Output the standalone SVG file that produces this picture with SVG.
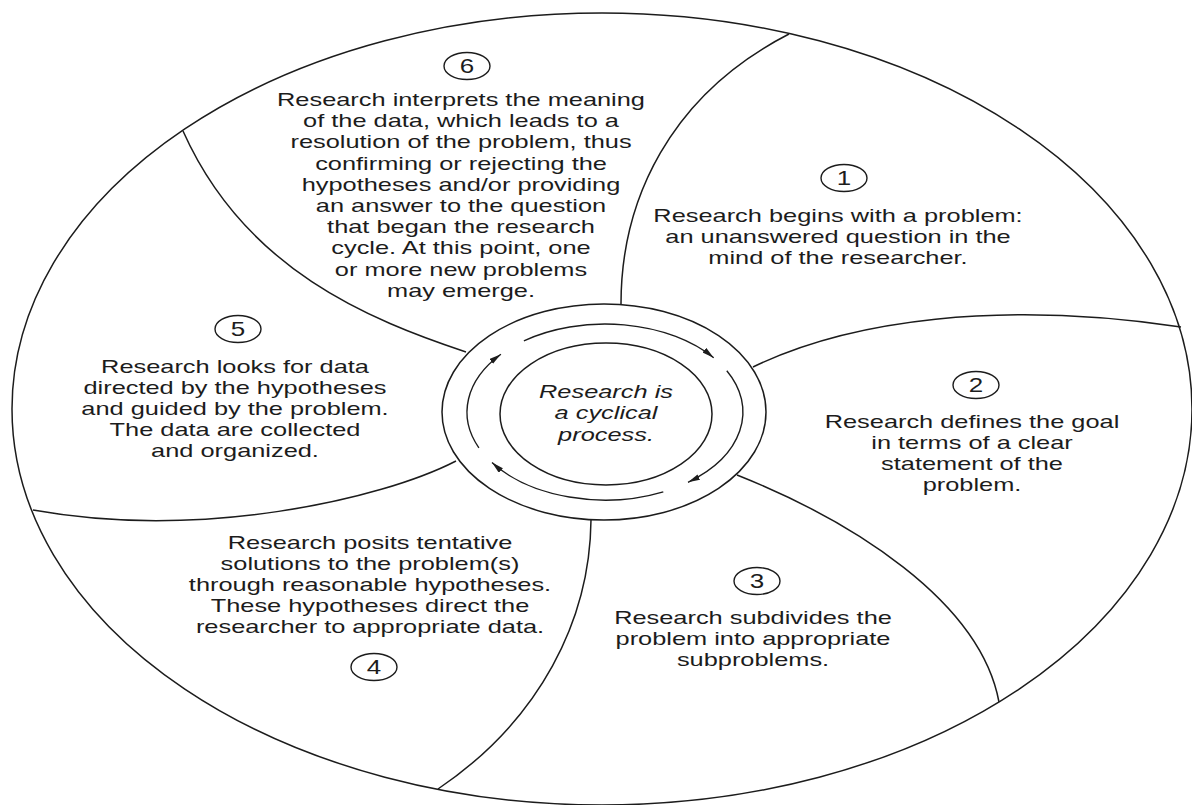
<svg xmlns="http://www.w3.org/2000/svg" width="1192" height="805" viewBox="0 0 1192 805">
<defs>
<style>
.ln{fill:none;stroke:#1c1c1c;stroke-width:1.5}
.num{fill:none;stroke:#1c1c1c;stroke-width:1.4}
.t{font-family:"Liberation Sans",Arial,sans-serif;font-size:17.5px;fill:#1c1c1c;text-anchor:middle}
.d{font-size:20px}
.it{font-style:italic}
.arc{fill:none;stroke:#1c1c1c;stroke-width:1.4;marker-end:url(#ah)}
</style>
<marker id="ah" markerUnits="userSpaceOnUse" markerWidth="14" markerHeight="8" refX="12" refY="3" orient="auto">
<path d="M0,0 L12,3 L0,6 z" fill="#1c1c1c"/>
</marker>
</defs>
<rect width="1192" height="805" fill="#fff"/>
<g id="frame">
<ellipse class="ln" cx="602" cy="409" rx="590" ry="396"/>
</g>
<g id="connectors">
<path class="ln" d="M621,304 C621,200 670,95 789,34"/>
<path class="ln" d="M753,367 C850,320 1000,300 1181,327"/>
<path class="ln" d="M737,475 C850,520 980,600 999,702"/>
<path class="ln" d="M591,520 C590,620 540,720 438,789"/>
<path class="ln" d="M456,461 C380,500 200,540 33,510"/>
<path class="ln" d="M466,352 C370,320 245,270 183,131"/>
</g>
<g id="hub">
<ellipse class="ln" cx="604" cy="412" rx="162" ry="108"/>
<ellipse class="ln" cx="606" cy="414" rx="106" ry="71"/>
<path class="arc" d="M523.9,340.8 A138,88 0 0 1 713.7,357.8"/>
<path class="arc" d="M726.8,370.7 A138,88 0 0 1 688.0,482.3"/>
<path class="arc" d="M663.3,491.8 A138,88 0 0 1 492.0,462.5"/>
<path class="arc" d="M478.9,447.8 A138,88 0 0 1 500.9,354.3"/>
<g transform="translate(606 0) scale(1.45 1)">
<text class="t it"><tspan x="0" y="398">Research is</tspan><tspan x="0" y="419.5">a cyclical</tspan><tspan x="0" y="441">process.</tspan></text>
</g>
</g>
<g id="step1">
<ellipse class="num" cx="844" cy="178" rx="23" ry="13.5"/>
<g transform="translate(844 0) scale(1.3 1)"><text class="t d" x="0" y="185.5">1</text></g>
<g transform="translate(838 0) scale(1.45 1)">
<text class="t"><tspan x="0" y="222">Research begins with a problem:</tspan><tspan x="0" y="243">an unanswered question in the</tspan><tspan x="0" y="264">mind of the researcher.</tspan></text>
</g>
</g>
<g id="step2">
<ellipse class="num" cx="976" cy="385" rx="23" ry="13.5"/>
<g transform="translate(976 0) scale(1.3 1)"><text class="t d" x="0" y="392.5">2</text></g>
<g transform="translate(972 0) scale(1.45 1)">
<text class="t"><tspan x="0" y="428">Research defines the goal</tspan><tspan x="0" y="449">in terms of a clear</tspan><tspan x="0" y="470">statement of the</tspan><tspan x="0" y="491">problem.</tspan></text>
</g>
</g>
<g id="step3">
<ellipse class="num" cx="757" cy="581" rx="23" ry="13.5"/>
<g transform="translate(757 0) scale(1.3 1)"><text class="t d" x="0" y="588.5">3</text></g>
<g transform="translate(753 0) scale(1.45 1)">
<text class="t"><tspan x="0" y="624">Research subdivides the</tspan><tspan x="0" y="645">problem into appropriate</tspan><tspan x="0" y="666">subproblems.</tspan></text>
</g>
</g>
<g id="step4">
<ellipse class="num" cx="374" cy="667" rx="23" ry="13.5"/>
<g transform="translate(374 0) scale(1.3 1)"><text class="t d" x="0" y="674.5">4</text></g>
<g transform="translate(370 0) scale(1.45 1)">
<text class="t"><tspan x="0" y="549">Research posits tentative</tspan><tspan x="0" y="570">solutions to the problem(s)</tspan><tspan x="0" y="591">through reasonable hypotheses.</tspan><tspan x="0" y="612">These hypotheses direct the</tspan><tspan x="0" y="633">researcher to appropriate data.</tspan></text>
</g>
</g>
<g id="step5">
<ellipse class="num" cx="238" cy="329" rx="23" ry="13.5"/>
<g transform="translate(238 0) scale(1.3 1)"><text class="t d" x="0" y="336.5">5</text></g>
<g transform="translate(235 0) scale(1.45 1)">
<text class="t"><tspan x="0" y="373">Research looks for data</tspan><tspan x="0" y="394">directed by the hypotheses</tspan><tspan x="0" y="415">and guided by the problem.</tspan><tspan x="0" y="436">The data are collected</tspan><tspan x="0" y="457">and organized.</tspan></text>
</g>
</g>
<g id="step6">
<ellipse class="num" cx="467" cy="66" rx="23" ry="13.5"/>
<g transform="translate(467 0) scale(1.3 1)"><text class="t d" x="0" y="73.5">6</text></g>
<g transform="translate(461 0) scale(1.45 1)">
<text class="t"><tspan x="0" y="106">Research interprets the meaning</tspan><tspan x="0" y="127.2">of the data, which leads to a</tspan><tspan x="0" y="148.4">resolution of the problem, thus</tspan><tspan x="0" y="169.6">confirming or rejecting the</tspan><tspan x="0" y="190.8">hypotheses and/or providing</tspan><tspan x="0" y="212">an answer to the question</tspan><tspan x="0" y="233.2">that began the research</tspan><tspan x="0" y="254.4">cycle. At this point, one</tspan><tspan x="0" y="275.6">or more new problems</tspan><tspan x="0" y="296.8">may emerge.</tspan></text>
</g>
</g>
</svg>
